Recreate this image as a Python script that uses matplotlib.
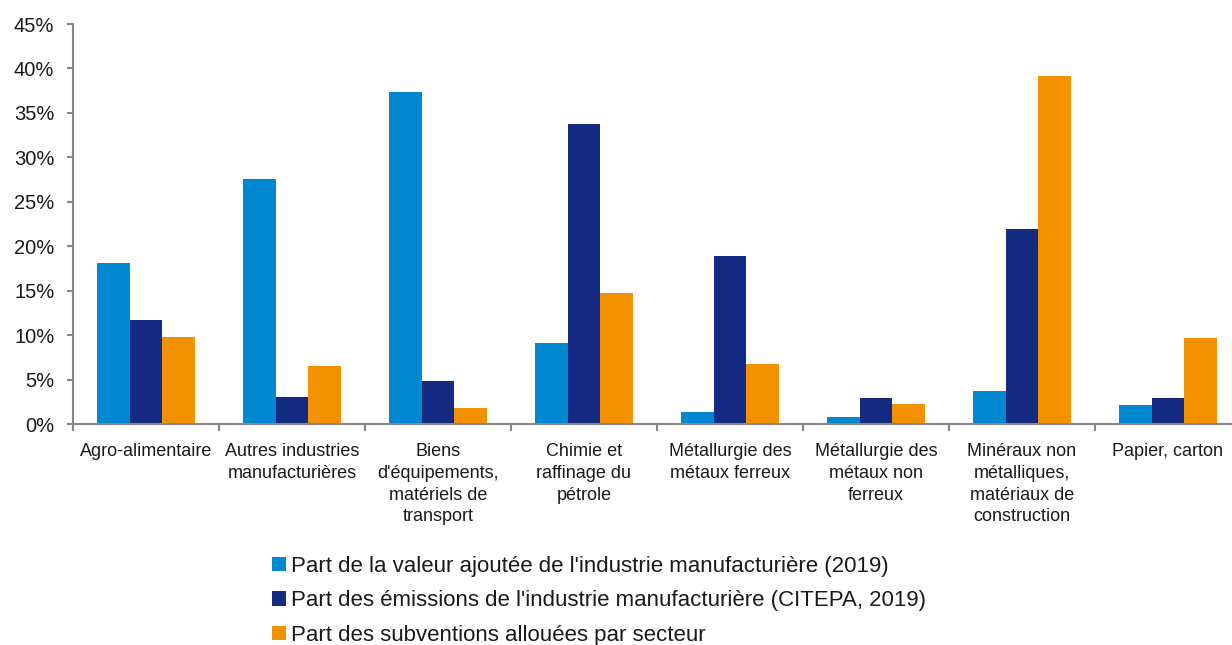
import matplotlib
matplotlib.use("Agg")
import matplotlib.pyplot as plt
import numpy as np

categories = [
    "Agro-alimentaire",
    "Autres industries\nmanufacturières",
    "Biens\nd'équipements,\nmatériels de\ntransport",
    "Chimie et\nraffinage du\npétrole",
    "Métallurgie des\nmétaux ferreux",
    "Métallurgie des\nmétaux non\nferreux",
    "Minéraux non\nmétalliques,\nmatériaux de\nconstruction",
    "Papier, carton",
]
valeur_ajoutee = [18.1, 27.6, 37.3, 9.1, 1.3, 0.8, 3.7, 2.1]
emissions = [11.7, 3.0, 4.8, 33.8, 18.9, 2.9, 21.9, 2.9]
subventions = [9.8, 6.5, 1.8, 14.7, 6.7, 2.3, 39.2, 9.7]
series_labels = [
    "Part de la valeur ajoutée de l'industrie manufacturière (2019)",
    "Part des émissions de l'industrie manufacturière (CITEPA, 2019)",
    "Part des subventions allouées par secteur",
]
colors = ["#0088D0", "#152A82", "#F39200"]
yticks = [0, 5, 10, 15, 20, 25, 30, 35, 40, 45]

plt.rcParams['font.family'] = ['Liberation Sans', 'DejaVu Sans']

fig = plt.figure(figsize=(12.32, 6.45), dpi=100)
W, H = 1232, 645
ax = fig.add_axes([73 / W, 1 - 424 / H, (1241 - 73) / W, (424 - 24) / H])

x = np.arange(len(categories))
bw = 2 / 9
for i, (vals, c, lab) in enumerate(zip([valeur_ajoutee, emissions, subventions], colors, series_labels)):
    ax.bar(x + (i - 1) * bw, vals, width=bw, color=c, label=lab, zorder=2)

ax.set_xlim(-0.5, len(categories) - 0.5)
ax.set_ylim(0, 45)
ax.set_yticks(yticks)
ax.set_yticklabels([f"{v}%" for v in yticks], fontsize=14.5, color="#1a1a1a")
ax.set_xticks(x)
ax.set_xticklabels(categories, fontsize=13, linespacing=1.36, va="top", color="#1a1a1a")
ax.tick_params(axis="x", length=0, pad=14)
ax.set_xticks(np.arange(len(categories) + 1) - 0.5, minor=True)
ax.tick_params(axis="x", which="minor", length=5, width=1.5, color="#888888")
ax.tick_params(axis="y", length=4.5, width=1.5, color="#888888", pad=9)

for s in ["top", "right"]:
    ax.spines[s].set_visible(False)
for s in ["left", "bottom"]:
    ax.spines[s].set_color("#888888")
    ax.spines[s].set_linewidth(1.5)

fig.legend(loc="upper left", bbox_to_anchor=(272 / W, 1 - 556 / H), frameon=False,
           fontsize=16, handlelength=0.62, handleheight=0.62, handletextpad=0.25,
           labelspacing=0.6, borderpad=0, borderaxespad=0, labelcolor="#1a1a1a")

fig.savefig("out.png", dpi=100)
